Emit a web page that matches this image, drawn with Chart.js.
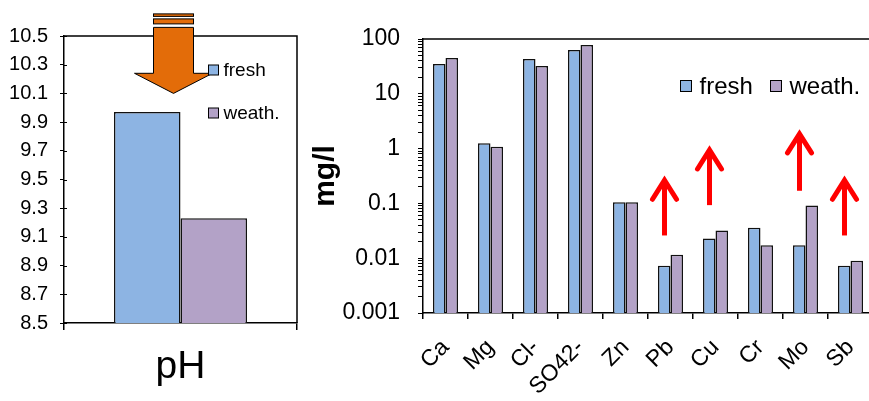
<!DOCTYPE html>
<html>
<head>
<meta charset="utf-8">
<script src="https://cdn.jsdelivr.net/npm/chart.js@4"></script>
<style>
    html, body { margin: 0; padding: 0; background: #fff; }
    #wrap { position: relative; width: 869px; height: 401px; overflow: hidden; }
    #phChart { position: absolute; left: 0; top: 0; }
    #ionChart { position: absolute; left: 300px; top: 0; }
</style>
</head>
<body>
<div id="wrap">
    <canvas id="phChart" width="300" height="401"></canvas>
    <canvas id="ionChart" width="575" height="401"></canvas>
</div>
<script>
const seriesLabels = ['fresh', 'weath.'];
const seriesColors = ['#8db4e3', '#b3a2c7'];

// pH panel
const phCategories = ['pH'];
const phFresh = [9.97];
const phWeath = [9.23];
const phTicks = [8.5, 8.7, 8.9, 9.1, 9.3, 9.5, 9.7, 9.9, 10.1, 10.3, 10.5];

// concentrations panel (mg/l, log axis)
const ionCategories = ['Ca', 'Mg', 'Cl-', 'SO42-', 'Zn', 'Pb', 'Cu', 'Cr', 'Mo', 'Sb'];
const ionFresh = [35, 1.25, 43, 63, 0.105, 0.0073, 0.023, 0.036, 0.0172, 0.0073];
const ionWeath = [45, 1.08, 32, 78, 0.105, 0.0116, 0.032, 0.0172, 0.092, 0.009];
const ionMajorTicks = [0.001, 0.01, 0.1, 1, 10, 100];

// red "goes up" arrows, in mg/l
const riseArrows = [
    { cat: 'Pb', from: 0.026, to: 0.30 },
    { cat: 'Cu', from: 0.093, to: 1.07 },
    { cat: 'Mo', from: 0.17, to: 2.1 },
    { cat: 'Sb', from: 0.026, to: 0.30 }
];
// orange "goes down" arrow, in pH units
const dropArrow = { tip: 10.1, headBase: 10.24, top: 10.56 };

const FONT = "'Liberation Sans', Arial, sans-serif";
Chart.defaults.font.family = FONT;
Chart.defaults.color = '#000';

// minor ticks for the log axis (2..9 of every decade)
const ionAllTicks = [];
ionMajorTicks.forEach((m, i) => {
    ionAllTicks.push(m);
    if (i < ionMajorTicks.length - 1) {
        for (let k = 2; k <= 9; k++) ionAllTicks.push(+(m * k).toPrecision(3));
    }
});

const boxLines = {
    id: 'boxLines',
    afterDatasetsDraw(chart, args, o) {
        const { ctx, chartArea: a, scales } = chart;
        ctx.save();
        ctx.strokeStyle = '#000';
        ctx.lineWidth = 1.5;
        ctx.beginPath();
        ctx.moveTo(a.left, a.top);
        if (o.right) {
            ctx.lineTo(a.right, a.top);
            ctx.lineTo(a.right, a.bottom);
        } else {
            ctx.lineTo(chart.width, a.top);
        }
        ctx.stroke();
        if (o.innerTicks) {
            ctx.lineWidth = 1;
            scales.y.ticks.forEach(t => {
                const py = Math.round(scales.y.getPixelForValue(t.value)) + 0.5;
                ctx.beginPath();
                ctx.moveTo(a.left, py);
                ctx.lineTo(a.left + o.innerTicks, py);
                ctx.stroke();
            });
        }
        ctx.restore();
    }
};

const dropArrowPlugin = {
    id: 'dropArrow',
    afterDatasetsDraw(chart, args, o) {
        if (!o.arrow) return;
        const { ctx, scales: { x, y } } = chart;
        const cx = x.getPixelForValue(0) + o.shift;
        const tip = y.getPixelForValue(o.arrow.tip);
        const base = y.getPixelForValue(o.arrow.headBase);
        const top = y.getPixelForValue(o.arrow.top);
        const sw = o.shaft, hw = o.head;
        ctx.save();
        ctx.fillStyle = o.color;
        ctx.strokeStyle = '#000';
        ctx.lineWidth = 1;
        ctx.beginPath();
        ctx.moveTo(cx - sw, top);
        ctx.lineTo(cx + sw, top);
        ctx.lineTo(cx + sw, base);
        ctx.lineTo(cx + hw, base);
        ctx.lineTo(cx, tip);
        ctx.lineTo(cx - hw, base);
        ctx.lineTo(cx - sw, base);
        ctx.closePath();
        ctx.fill();
        ctx.stroke();
        // striped tail
        [[top - 13.5, 2.5], [top - 8.5, 5]].forEach(([ty, h]) => {
            ctx.fillRect(cx - sw, ty, sw * 2, h);
            ctx.strokeRect(cx - sw, ty, sw * 2, h);
        });
        ctx.restore();
    }
};

const riseArrowPlugin = {
    id: 'riseArrows',
    afterDatasetsDraw(chart, args, o) {
        if (!o.arrows) return;
        const { ctx, scales: { x, y } } = chart;
        ctx.save();
        ctx.strokeStyle = o.color;
        ctx.lineWidth = o.width;
        o.arrows.forEach(ar => {
            const cx = x.getPixelForValue(ionCategories.indexOf(ar.cat)) + o.shift;
            const y0 = y.getPixelForValue(ar.from);
            const y1 = y.getPixelForValue(ar.to);
            ctx.lineCap = 'butt';
            ctx.beginPath();
            ctx.moveTo(cx, y0);
            ctx.lineTo(cx, y1 + 3);
            ctx.stroke();
            ctx.lineCap = 'round';
            ctx.lineJoin = 'miter';
            ctx.beginPath();
            ctx.moveTo(cx - 12, y1 + 22);
            ctx.lineTo(cx, y1 + 3);
            ctx.lineTo(cx + 12, y1 + 22);
            ctx.stroke();
        });
        ctx.restore();
    }
};

const boxLegend = {
    id: 'boxLegend',
    afterDraw(chart, args, o) {
        const { ctx, chartArea: a } = chart;
        ctx.save();
        ctx.font = o.size + 'px ' + FONT;
        ctx.textBaseline = 'middle';
        ctx.textAlign = 'left';
        chart.data.datasets.forEach((ds, i) => {
            const bx = Math.round(a.left + o.x + i * o.dx) + 0.5;
            const by = Math.round(a.top + o.y + i * o.dy);
            ctx.fillStyle = ds.backgroundColor;
            ctx.fillRect(bx, by - o.box / 2, o.box, o.box);
            ctx.strokeStyle = '#000';
            ctx.lineWidth = 1;
            ctx.strokeRect(bx, by - o.box / 2, o.box, o.box);
            ctx.fillStyle = '#000';
            ctx.fillText(ds.label, bx + o.box + o.gap, by + 1);
        });
        ctx.restore();
    }
};

function barSets(a, b) {
    return [
        { label: seriesLabels[0], data: a, backgroundColor: seriesColors[0], borderColor: '#111', borderWidth: 1.5 },
        { label: seriesLabels[1], data: b, backgroundColor: seriesColors[1], borderColor: '#111', borderWidth: 1.5 }
    ];
}

new Chart(document.getElementById('phChart'), {
    type: 'bar',
    data: { labels: phCategories, datasets: barSets(phFresh, phWeath) },
    plugins: [boxLines, dropArrowPlugin, boxLegend],
    options: {
        responsive: false,
        animation: false,
        layout: { padding: { top: 36, right: 3, left: 0, bottom: 0 } },
        datasets: { bar: { barPercentage: 1, categoryPercentage: 0.571 } },
        scales: {
            x: {
                grid: { offset: true, drawOnChartArea: false, color: '#000', tickLength: 7, lineWidth: 1.5 },
                border: { color: '#000', width: 1.5 },
                ticks: { font: { size: 39 }, color: '#000', padding: 14 },
                afterFit: s => { s.height = 78; s.paddingLeft = 0; s.paddingRight = 0; }
            },
            y: {
                min: 8.5,
                max: 10.5,
                afterBuildTicks: s => { s.ticks = phTicks.map(v => ({ value: v })); },
                grid: { drawOnChartArea: false, color: '#000', tickLength: 4 },
                border: { color: '#000', width: 1.5 },
                ticks: { font: { size: 20 }, color: '#000', padding: 12, callback: v => Number(v).toFixed(1) },
                afterFit: s => { s.width = 64; }
            }
        },
        plugins: {
            legend: { display: false },
            tooltip: { enabled: false },
            boxLines: { right: true, innerTicks: 3 },
            dropArrow: { arrow: dropArrow, shift: -7, shaft: 20, head: 39, color: '#e36c09' },
            boxLegend: { x: 144, y: 34, dx: 0, dy: 43, box: 10, gap: 5, size: 19 }
        }
    }
});

new Chart(document.getElementById('ionChart'), {
    type: 'bar',
    data: { labels: ionCategories, datasets: barSets(ionFresh, ionWeath) },
    plugins: [boxLines, riseArrowPlugin, boxLegend],
    options: {
        responsive: false,
        animation: false,
        layout: { padding: { top: 39, right: 2, left: 0, bottom: 0 } },
        datasets: { bar: { barPercentage: 1, categoryPercentage: 0.556 } },
        scales: {
            x: {
                grid: { offset: true, drawOnChartArea: false, color: '#000', tickLength: 6, lineWidth: 1.5 },
                border: { color: '#000', width: 1.5 },
                ticks: { font: { size: 23 }, color: '#000', minRotation: 45, maxRotation: 45, autoSkip: false, padding: 15 },
                afterFit: s => { s.height = 88; s.paddingLeft = 0; s.paddingRight = 0; }
            },
            y: {
                type: 'logarithmic',
                min: 0.001,
                max: 100,
                afterBuildTicks: s => { s.ticks = ionAllTicks.map(v => ({ value: v, major: ionMajorTicks.includes(v) })); },
                grid: { drawOnChartArea: false, color: '#000', tickLength: 5 },
                border: { color: '#000', width: 1.5 },
                ticks: {
                    font: { size: 23 }, color: '#000', padding: 18, autoSkip: false,
                    callback: v => ionMajorTicks.includes(v) ? String(v) : ''
                },
                title: { display: true, text: 'mg/l', color: '#000', font: { size: 30, weight: 'bold' }, padding: { top: 8, bottom: 0 } },
                afterFit: s => { s.width = 123; }
            }
        },
        plugins: {
            legend: { display: false },
            tooltip: { enabled: false },
            boxLines: { right: false },
            riseArrows: { arrows: riseArrows, color: '#ff0000', width: 5, shift: -6 },
            boxLegend: { x: 257, y: 47, dx: 90, dy: 0, box: 11, gap: 8, size: 24 }
        }
    }
});
</script>
</body>
</html>
